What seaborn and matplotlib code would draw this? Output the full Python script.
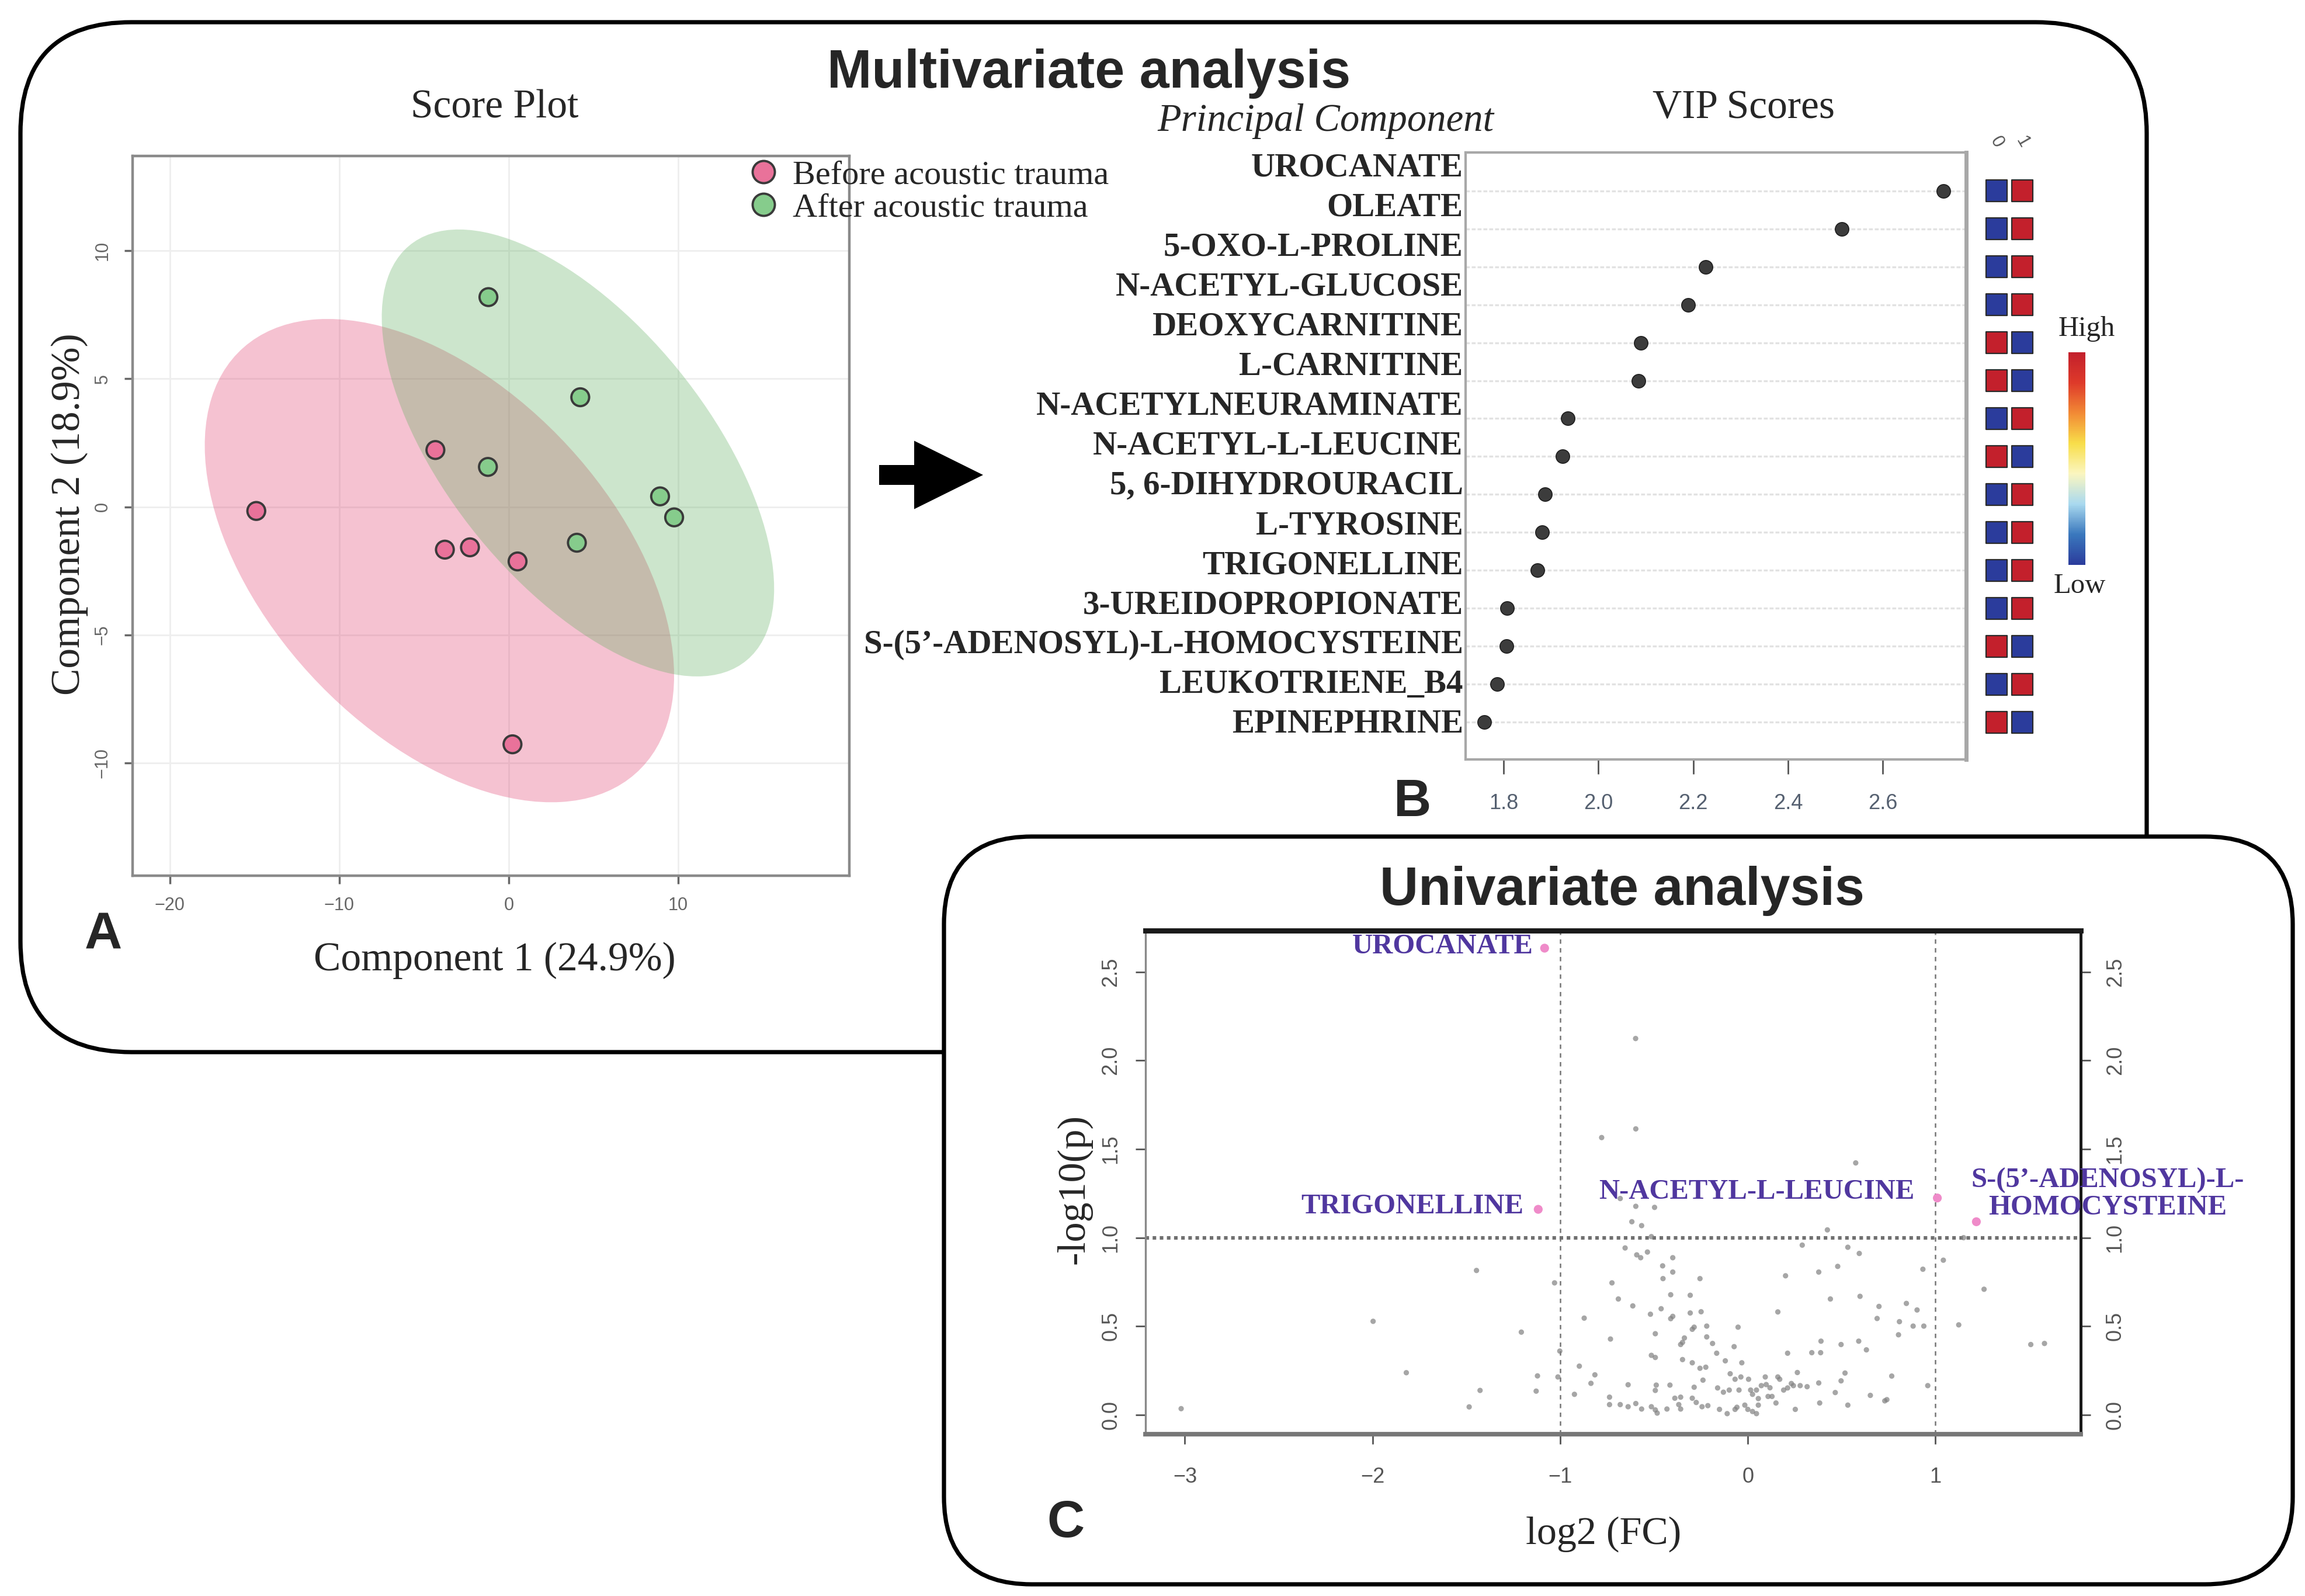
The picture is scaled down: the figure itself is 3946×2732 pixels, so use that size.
import numpy as np
import pandas as pd
import matplotlib
matplotlib.use("Agg")
import matplotlib.pyplot as plt
import matplotlib.transforms as mtransforms
import seaborn as sns
from matplotlib.patches import Ellipse, FancyBboxPatch, FancyArrow
from matplotlib.colors import LinearSegmentedColormap, Normalize
import matplotlib.cm as cm

# ---------------- data ----------------
group_labels = ["Before acoustic trauma", "After acoustic trauma"]
before_pc1 = [-14.9, -4.33, -3.77, -2.29, 0.52, 0.22]
before_pc2 = [-0.16, 2.22, -1.67, -1.58, -2.13, -9.27]
after_pc1 = [-1.2, 4.22, -1.23, 8.93, 9.76, 4.02]
after_pc2 = [8.19, 4.28, 1.56, 0.41, -0.41, -1.40]

vip_names = ["UROCANATE", "OLEATE", "5-OXO-L-PROLINE", "N-ACETYL-GLUCOSE",
             "DEOXYCARNITINE", "L-CARNITINE", "N-ACETYLNEURAMINATE",
             "N-ACETYL-L-LEUCINE", "5, 6-DIHYDROURACIL", "L-TYROSINE",
             "TRIGONELLINE", "3-UREIDOPROPIONATE",
             "S-(5\u2019-ADENOSYL)-L-HOMOCYSTEINE", "LEUKOTRIENE_B4", "EPINEPHRINE"]
vip_scores = [2.728, 2.514, 2.226, 2.190, 2.090, 2.085, 1.936, 1.925,
              1.887, 1.882, 1.872, 1.808, 1.806, 1.786, 1.760]
vip_level_g0 = [0, 0, 0, 0, 1, 1, 0, 1, 0, 0, 0, 0, 1, 0, 1]
vip_level_g1 = [1, 1, 1, 1, 0, 0, 1, 0, 1, 1, 1, 1, 0, 1, 0]
vip_groups = ["0", "1"]

volcano_fc = [
    -3.02, -1.997, -1.82, -1.446, -1.427, -1.485, -1.207, -1.03,
    -0.597, -0.779, -0.680, -0.597, -0.497, -0.618, -0.566, -0.514, -0.654, -0.592,
    -0.571, -0.535, -0.400, -0.454, -0.400, -0.452, -0.255, -0.724, -0.690, -0.411,
    -0.307, -0.613, -0.462, -0.519, -0.307, -0.249, -0.872, -0.411, -0.400, -0.286,
    -0.296, -0.219, -0.493, -0.732, -0.338, -0.348, -0.358, -0.219, -1.002, -0.514,
    -0.493, -0.898, -0.348, -0.296, -0.255, -0.224, -1.121, -1.012, -0.815, -0.836,
    -1.128, -0.924, -0.638, -0.488, -0.493, -0.415, -0.286, -0.239, -0.737, -0.737,
    -0.680, -0.638, -0.597, -0.566, -0.514, -0.493, -0.483, -0.431, -0.389, -0.358,
    -0.368, -0.358, -0.296, -0.275, -0.244, -0.213,
    0.575, 0.424, 0.290, 0.533, 0.594, 0.479, 0.378, 0.201, 0.440, 0.598, 0.699,
    0.689, 0.160, -0.052, -0.188, -0.073, 0.212, 0.341, 0.388, 0.390, 0.497, 0.591,
    0.632, -0.166, -0.120, -0.032, 0.264, 0.518, 0.497, 0.378, 0.466, 0.653, 0.730,
    0.533, 0.383, 0.253, -0.094, -0.068, -0.037, 0.004, -0.161, -0.130, -0.099,
    -0.047, -0.151, -0.110, -0.068, -0.058, 0.0, 0.025, 0.046, 0.056, 0.056, 0.046,
    0.025, 0.015, 0.072, 0.098, 0.118, 0.108, 0.093, 0.150, 0.160, 0.170, 0.191,
    0.212, 0.232, 0.243, 0.279, 0.316, 0.129, -0.016,
    1.15, 1.042, 0.933, 1.259, 0.845, 0.902, 0.808, 0.881, 0.938, 1.124, 0.803,
    1.508, 1.581, 0.767, 0.959, 0.741,
    -0.598]
volcano_p = [
    0.035, 0.528, 0.238, 0.815, 0.138, 0.045, 0.467, 0.745,
    1.614, 1.565, 1.221, 1.177, 1.171, 1.09, 1.068, 1.006, 0.942, 0.903,
    0.887, 0.919, 0.887, 0.841, 0.806, 0.769, 0.769, 0.745, 0.654, 0.678,
    0.675, 0.615, 0.599, 0.568, 0.575, 0.582, 0.546, 0.543, 0.556, 0.495,
    0.483, 0.501, 0.458, 0.428, 0.434, 0.409, 0.397, 0.440, 0.36, 0.336,
    0.324, 0.275, 0.312, 0.294, 0.263, 0.269, 0.22, 0.214, 0.226, 0.178,
    0.134, 0.116, 0.17, 0.168, 0.138, 0.168, 0.156, 0.196, 0.1, 0.058,
    0.058, 0.046, 0.064, 0.033, 0.046, 0.028, 0.010, 0.033, 0.094, 0.10,
    0.058, 0.033, 0.094, 0.070, 0.046, 0.052,
    1.422, 1.044, 0.958, 0.946, 0.911, 0.838, 0.806, 0.785, 0.654, 0.669, 0.612,
    0.544, 0.581, 0.495, 0.403, 0.385, 0.348, 0.351, 0.351, 0.416, 0.397, 0.416,
    0.367, 0.348, 0.305, 0.294, 0.239, 0.236, 0.192, 0.18, 0.126, 0.110, 0.079,
    0.055, 0.067, 0.031, 0.232, 0.201, 0.214, 0.201, 0.152, 0.128, 0.140,
    0.140, 0.031, 0.007, 0.031, 0.043, 0.031, 0.019, 0.007, 0.055, 0.092, 0.140,
    0.116, 0.140, 0.165, 0.171, 0.153, 0.104, 0.214, 0.067, 0.214, 0.201, 0.140,
    0.152, 0.177, 0.165, 0.165, 0.159, 0.104, 0.055,
    1.0, 0.873, 0.822, 0.709, 0.629, 0.592, 0.526, 0.501, 0.501, 0.508, 0.452,
    0.397, 0.403, 0.219, 0.165, 0.086,
    2.124]

sig_names = ["UROCANATE", "TRIGONELLINE", "N-ACETYL-L-LEUCINE",
             "S-(5\u2019-ADENOSYL)-L-\nHOMOCYSTEINE"]
sig_fc = [-1.083, -1.117, 1.010, 1.218]
sig_p = [2.634, 1.16, 1.224, 1.09]

# ---------------- setup ----------------
sns.set_theme(style="white")
plt.rcParams['font.family'] = ['Liberation Serif', 'DejaVu Serif']
SANS = ['Liberation Sans', 'DejaVu Sans']

W, H, DPI = 3946, 2732, 200
fig = plt.figure(figsize=(W / DPI, H / DPI), dpi=DPI)
fig.patch.set_facecolor('white')


def ax_px(l, t, r, b):
    return fig.add_axes([l / W, 1 - b / H, (r - l) / W, (b - t) / H])


def ftext(x, y, s, **kw):
    return fig.text(x / W, 1 - y / H, s, **kw)


def box_px(l, t, r, b, rad, z, fc):
    p = FancyBboxPatch((l / DPI, (H - b) / DPI), (r - l) / DPI, (b - t) / DPI,
                       boxstyle=f"round,pad=0,rounding_size={rad / DPI}",
                       transform=fig.dpi_scale_trans, fc=fc, ec='black',
                       lw=2.6, zorder=z)
    fig.add_artist(p)


box_px(35, 38, 3675, 1801, 190, -3, 'none')
box_px(1616, 1432, 3925, 2712, 150, -2, 'white')

# ---------------- A: score plot ----------------
ax1 = ax_px(227, 267, 1454, 1499)
df_score = pd.DataFrame({
    'PC1': before_pc1 + after_pc1,
    'PC2': before_pc2 + after_pc2,
    'Group': [group_labels[0]] * len(before_pc1) + [group_labels[1]] * len(after_pc1)})
ell_col = {group_labels[0]: '#de3769', group_labels[1]: '#58ac58'}
pt_col = {group_labels[0]: '#e9729a', group_labels[1]: '#86cc8c'}
for zi, g in enumerate(group_labels):
    d = df_score[df_score.Group == g]
    cov = np.cov(d.PC1, d.PC2)
    vals, vecs = np.linalg.eigh(cov)
    order = vals.argsort()[::-1]
    vals, vecs = vals[order], vecs[:, order]
    ang = np.degrees(np.arctan2(vecs[1, 0], vecs[0, 0]))
    k = np.sqrt(5.991)
    ax1.add_patch(Ellipse((d.PC1.mean(), d.PC2.mean()), 2 * k * np.sqrt(vals[0]),
                          2 * k * np.sqrt(vals[1]), angle=ang, fc=ell_col[g],
                          alpha=0.3, ec='none', zorder=1 + zi * 0.1))
sns.scatterplot(data=df_score, x='PC1', y='PC2', hue='Group', palette=pt_col,
                s=120, edgecolor='#3a3a3a', linewidth=1.4, ax=ax1, zorder=3)
handles, labels = ax1.get_legend_handles_labels()
ax1.legend(handles, labels, loc='upper left', bbox_to_anchor=(1272 / W, 1 - 274 / H),
           bbox_transform=fig.transFigure, frameon=False, fontsize=21,
           handletextpad=0.25, labelspacing=0.05, markerscale=1.25,
           borderaxespad=0, borderpad=0, handlelength=1.2)
ax1.set_xlim(-22.2, 20.1)
ax1.set_ylim(-14.4, 13.7)
ax1.set_xticks([-20, -10, 0, 10])
ax1.set_yticks([-10, -5, 0, 5, 10])
ax1.set_xlabel('')
ax1.set_ylabel('')
ax1.grid(True, color='#eeeeee', lw=1)
ax1.tick_params(labelsize=11, colors='#666', length=5, direction='out', pad=8,
                bottom=True, left=True)
for lab in ax1.get_xticklabels() + ax1.get_yticklabels():
    lab.set_family(SANS)
plt.setp(ax1.get_yticklabels(), rotation=90, va='center')
for s in ax1.spines.values():
    s.set_color('#8a8a8a')
    s.set_linewidth(1.6)
ftext(847, 185, 'Score Plot', ha='center', va='center', fontsize=25)
ftext(847, 1644, 'Component 1 (24.9%)', ha='center', va='center', fontsize=25)
ftext(119, 880, 'Component 2 (18.9%)', ha='center', va='center', fontsize=25, rotation=90)
ftext(177, 1601, 'A', ha='center', va='center', fontsize=32, fontweight='bold', family=SANS)

# ---------------- B: VIP scores ----------------
ax2 = ax_px(2509, 261, 3366, 1300)
df_vip = pd.DataFrame({'Metabolite': vip_names, 'VIP': vip_scores,
                       'Row': np.arange(len(vip_names))})
sns.scatterplot(data=df_vip, x='VIP', y='Row', color='#3c3c3c', s=70,
                edgecolor='#1e1e1e', linewidth=0.6, ax=ax2, zorder=3)
ax2.set_xlim(1.72, 2.776)
ax2.set_ylim(14.98, -1.01)
ax2.set_yticks(df_vip.Row)
ax2.set_yticklabels([])
ax2.tick_params(axis='y', length=0)
ax2.grid(axis='y', color='#e2e2e2', lw=1.2, ls=(0, (2, 1)))
ax2.grid(axis='x', visible=False)
ax2.set_xticks([1.8, 2.0, 2.2, 2.4, 2.6])
ax2.set_xticklabels(['1.8', '2.0', '2.2', '2.4', '2.6'])
ax2.tick_params(axis='x', length=9, width=1, color='#555', labelsize=13,
                labelcolor='#556070', pad=12, bottom=True)
for lab in ax2.get_xticklabels():
    lab.set_family(SANS)
ax2.set_xlabel('')
ax2.set_ylabel('')
for s in ax2.spines.values():
    s.set_color('#a8a8a8')
    s.set_linewidth(1.5)
ax2.spines['right'].set_linewidth(2.5)
trans2 = mtransforms.blended_transform_factory(ax2.transAxes, ax2.transData)
n = len(vip_names)
label_rows = np.linspace(-0.6, 14.06, n)
for name, yr in zip(vip_names, label_rows):
    ax2.text(-0.005, yr, name, transform=trans2, ha='right', va='center',
             fontsize=20.5, fontweight='bold', clip_on=False)
ftext(2269, 207, 'Principal Component', ha='center', va='center', fontsize=24, style='italic')
ftext(2985, 185, 'VIP Scores', ha='center', va='center', fontsize=25)
ftext(2418, 1374, 'B', ha='center', va='center', fontsize=32, fontweight='bold', family=SANS)

# heat cells
heat_cmap = LinearSegmentedColormap.from_list(
    'hl', ['#2b3c9c', '#3a78bd', '#a9d9ef', '#fbf6c0', '#f8de4a', '#f28a35', '#de3a2a', '#c3202c'])
ax3 = ax_px(3390, 261, 3490, 1300)
df_heat = pd.DataFrame({
    'col': [0] * n + [1] * n,
    'row': list(range(n)) * 2,
    'level': vip_level_g0 + vip_level_g1})
sns.scatterplot(data=df_heat, x='col', y='row', hue='level',
                palette={0: heat_cmap(0.0), 1: heat_cmap(1.0)}, marker='s', s=175,
                edgecolor='#2a2a2a', linewidth=0.8, legend=False, ax=ax3)
ax3.set_xlim(-0.636, 1.636)
ax3.set_ylim(14.98, -1.01)
ax3.axis('off')
for i, g in enumerate(vip_groups):
    ax3.text(i, -1.05, g, ha='center', va='bottom', fontsize=11, color='#555',
             rotation=-60, family=SANS, clip_on=False)

cax = ax_px(3541, 603, 3570, 967)
cb = fig.colorbar(cm.ScalarMappable(norm=Normalize(0, 1), cmap=heat_cmap), cax=cax)
cb.set_ticks([])
cb.outline.set_visible(False)
ftext(3572, 563, 'High', ha='center', va='center', fontsize=17.5)
ftext(3560, 1003, 'Low', ha='center', va='center', fontsize=17.5)

# arrow
fig.add_artist(FancyArrow(1505 / DPI, (H - 813) / DPI, (1683 - 1505) / DPI, 0,
                          width=34 / DPI, head_width=117 / DPI, head_length=118 / DPI,
                          length_includes_head=True, transform=fig.dpi_scale_trans,
                          color='black', lw=0))

ftext(1864, 126, 'Multivariate analysis', ha='center', va='center', fontsize=33,
      fontweight='bold', family=SANS)

# ---------------- C: volcano ----------------
ax4 = ax_px(1961, 1593, 3562, 2455)
df_vol = pd.DataFrame({'log2FC': volcano_fc, 'p': volcano_p})
sns.scatterplot(data=df_vol, x='log2FC', y='p', color='#808080', s=11, alpha=0.7,
                edgecolor='none', ax=ax4, zorder=3)
df_sig = pd.DataFrame({'log2FC': sig_fc, 'p': sig_p, 'name': sig_names})
sns.scatterplot(data=df_sig, x='log2FC', y='p', color='#ef8bc9', s=30,
                edgecolor='none', ax=ax4, zorder=4)
ax4.axvline(-1, color='#777', ls=(0, (3, 3)), lw=0.9, zorder=2)
ax4.axvline(1, color='#777', ls=(0, (3, 3)), lw=0.9, zorder=2)
ax4.axhline(1.0, color='#707070', ls=(0, (1, 1)), lw=2.2, zorder=2)
ax4.set_xlim(-3.21, 1.774)
ax4.set_ylim(-0.109, 2.733)
ax4.set_xticks([-3, -2, -1, 0, 1])
ax4.set_yticks([0.0, 0.5, 1.0, 1.5, 2.0, 2.5])
ax4.set_yticklabels(['0.0', '0.5', '1.0', '1.5', '2.0', '2.5'])
ax4.set_xlabel('')
ax4.set_ylabel('')
ax4.tick_params(axis='both', labelsize=13, colors='#555', length=6, width=1,
                direction='out', pad=9)
ax4.tick_params(axis='y', left=True, right=True, labelleft=True, labelright=True)
ax4.tick_params(axis='x', bottom=True, pad=14)
for lab in ax4.get_xticklabels() + ax4.get_yticklabels():
    lab.set_family(SANS)
plt.setp(ax4.get_yticklabels(), rotation=90, va='center')
for tick in ax4.yaxis.get_major_ticks():
    tick.label2.set_rotation(90)
    tick.label2.set_va('center')
    tick.label2.set_family(SANS)
ax4.spines['top'].set_color('#1a1a1a')
ax4.spines['top'].set_linewidth(3.2)
ax4.spines['bottom'].set_color('#777')
ax4.spines['bottom'].set_linewidth(2.8)
ax4.spines['left'].set_color('#888')
ax4.spines['left'].set_linewidth(1.2)
ax4.spines['right'].set_color('#1a1a1a')
ax4.spines['right'].set_linewidth(1.8)
purple = '#50379f'
offsets = [(-7, 1, 'right'), (-9, 2, 'right'), (-14, 4, 'right'), (81, 17, 'center')]
for (nm, xv, yv), (dx, dy, ha) in zip(zip(sig_names, sig_fc, sig_p), offsets):
    ax4.annotate(nm, (xv, yv), xytext=(dx, dy), textcoords='offset points',
                 ha=ha, va='center', color=purple, fontsize=17.5,
                 fontweight='bold', annotation_clip=False, linespacing=1.05, zorder=5)
ftext(2777, 1525, 'Univariate analysis', ha='center', va='center', fontsize=33,
      fontweight='bold', family=SANS)
ftext(1839, 2036, '-log10(p)', ha='center', va='center', fontsize=24.5, rotation=90)
ftext(2745, 2626, 'log2 (FC)', ha='center', va='center', fontsize=24.5)
ftext(1824, 2608, 'C', ha='center', va='center', fontsize=32, fontweight='bold', family=SANS)

fig.savefig('out.png', dpi=DPI, facecolor='white')
